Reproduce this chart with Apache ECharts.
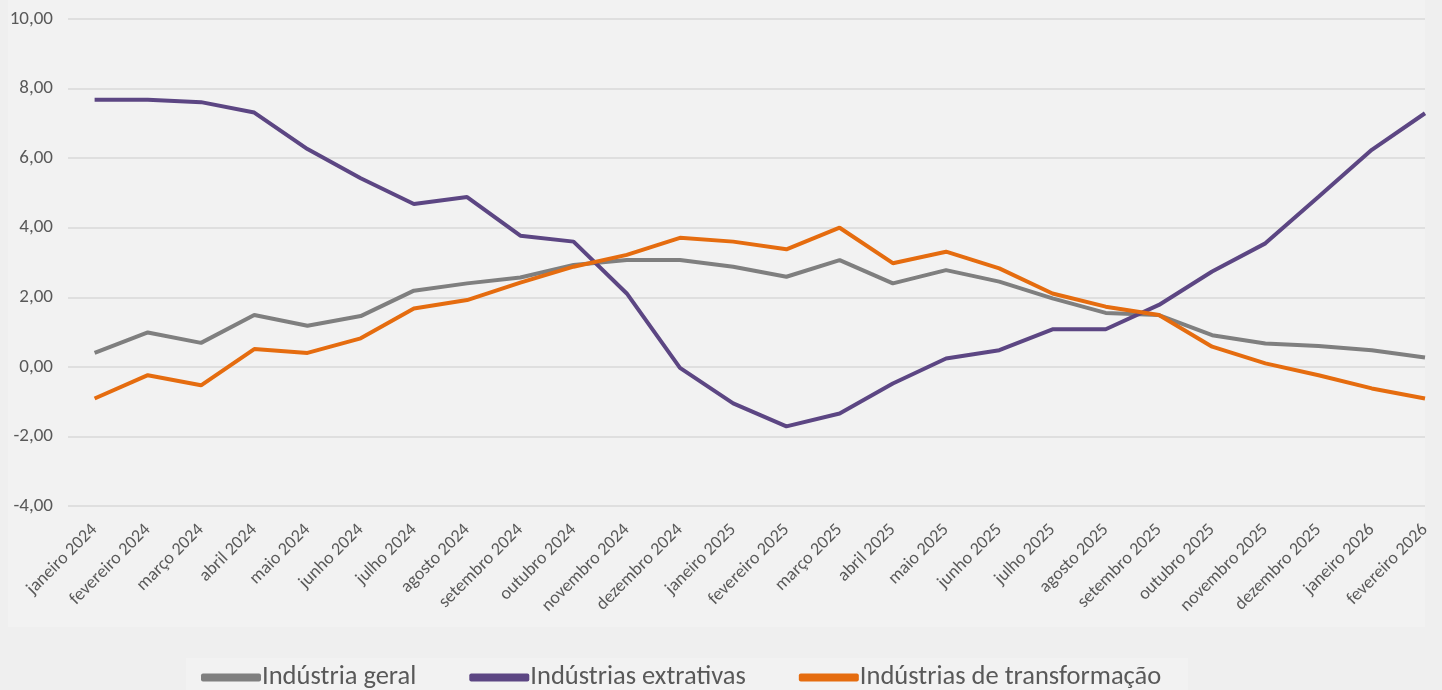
<!DOCTYPE html>
<html>
<head>
<meta charset="utf-8">
<script src="https://cdn.jsdelivr.net/npm/echarts@6/dist/echarts.min.js"></script>
<style>
  html, body { margin: 0; padding: 0; background: #efefef; }
  #chart1 { width: 1442px; height: 690px; }
</style>
</head>
<body>
<div id="chart1"></div>
<script>
// meses do eixo x
var meses = ['janeiro 2024','fevereiro 2024','março 2024','abril 2024','maio 2024','junho 2024',
    'julho 2024','agosto 2024','setembro 2024','outubro 2024','novembro 2024','dezembro 2024',
    'janeiro 2025','fevereiro 2025','março 2025','abril 2025','maio 2025','junho 2025',
    'julho 2025','agosto 2025','setembro 2025','outubro 2025','novembro 2025','dezembro 2025',
    'janeiro 2026','fevereiro 2026'];

var industriaGeral = [0.40,0.99,0.69,1.49,1.18,1.46,2.19,2.40,2.57,2.93,3.07,3.07,
    2.88,2.59,3.07,2.40,2.78,2.45,1.97,1.55,1.49,0.91,0.67,0.60,0.48,0.27];
var extrativas = [7.68,7.68,7.61,7.31,6.26,5.42,4.68,4.88,3.77,3.60,2.11,-0.03,
    -1.05,-1.71,-1.34,-0.48,0.24,0.48,1.08,1.08,1.78,2.74,3.55,4.89,6.24,7.29];
var transformacao = [-0.91,-0.24,-0.53,0.51,0.40,0.82,1.68,1.92,2.42,2.88,3.22,3.71,
    3.60,3.38,4.00,2.98,3.31,2.83,2.11,1.73,1.49,0.58,0.10,-0.24,-0.62,-0.91];

var fonte = 'Carlito, "Liberation Sans Narrow", "Open Sans", sans-serif';

function pares(arr) {
    var out = [];
    for (var i = 0; i < arr.length; i++) {
        out.push([i, arr[i]]);
    }
    return out;
}

var idx = [];
for (var i = 0; i < meses.length; i++) { idx.push(i); }

var _chart1 = echarts.init(document.getElementById('chart1'));

var option = {
    backgroundColor: '#efefef',
    animation: false,
    graphic: [
        { type: 'rect', z: -10, shape: { x: 8, y: 0, width: 1417, height: 627 }, style: { fill: '#f2f2f2' } },
        { type: 'rect', z: -10, shape: { x: 186, y: 658, width: 1002, height: 32 }, style: { fill: '#f2f2f2' } }
    ],
    legend: {
        left: 196,
        top: 659,
        itemWidth: 60,
        itemHeight: 8,
        itemGap: 53,
        icon: 'roundRect',
        textStyle: { fontSize: 26.5, color: '#595959', fontFamily: fonte, padding: [0, 0, 0, -4] },
        data: ['Indústria geral', 'Indústrias extrativas', 'Indústrias de transformação']
    },
    grid: { left: 68, right: 17, top: 19, bottom: 184 },
    xAxis: {
        type: 'value',
        min: -0.5,
        max: 25,
        splitLine: { show: false },
        axisLine: { show: false },
        axisTick: { show: false },
        axisLabel: {
            customValues: idx,
            rotate: 45,
            margin: 21,
            fontSize: 18,
            color: '#595959',
            fontFamily: fonte,
            formatter: function (v) { return meses[Math.round(v)]; }
        }
    },
    yAxis: {
        type: 'value',
        min: -4,
        max: 10,
        interval: 2,
        axisLine: { show: false },
        axisTick: { show: false },
        splitLine: { lineStyle: { color: '#d9d9d9', width: 1.5 } },
        axisLabel: {
            margin: 15,
            fontSize: 19,
            color: '#595959',
            fontFamily: fonte,
            formatter: function (v) { return v.toFixed(2).replace('.', ','); }
        }
    },
    series: [
        {
            name: 'Indústria geral',
            type: 'line',
            data: pares(industriaGeral),
            showSymbol: false,
            itemStyle: { color: '#7f7f7f' },
            lineStyle: { color: '#7f7f7f', width: 4 }
        },
        {
            name: 'Indústrias extrativas',
            type: 'line',
            data: pares(extrativas),
            showSymbol: false,
            itemStyle: { color: '#5c4683' },
            lineStyle: { color: '#5c4683', width: 4 }
        },
        {
            name: 'Indústrias de transformação',
            type: 'line',
            data: pares(transformacao),
            showSymbol: false,
            itemStyle: { color: '#e56c0f' },
            lineStyle: { color: '#e56c0f', width: 4 }
        }
    ]
};

_chart1.setOption(option);
</script>
</body>
</html>
